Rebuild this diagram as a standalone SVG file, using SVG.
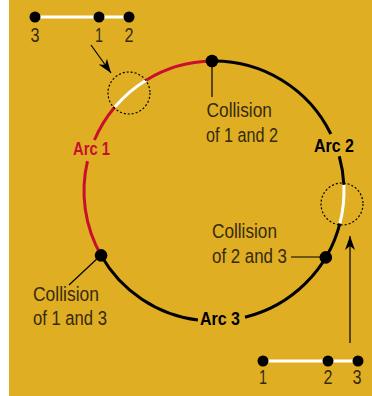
<svg xmlns="http://www.w3.org/2000/svg" width="372" height="396" viewBox="0 0 372 396">
<style>
.lbl{font-family:"Liberation Sans",Arial,sans-serif;font-size:20px;fill:#352a0e}
.num{font-family:"Liberation Sans",Arial,sans-serif;font-size:21px;fill:#352a0e;text-anchor:middle}
.arc{font-family:"Liberation Sans",Arial,sans-serif;font-size:18px;font-weight:bold}
.blk{fill:none;stroke:#000;stroke-width:3}
.red{fill:none;stroke:#c8102e;stroke-width:3}
.wht{fill:none;stroke:#fff;stroke-width:3}
.lead{fill:none;stroke:#000;stroke-width:1.2}
.dash{fill:none;stroke:#000;stroke-width:1.2;stroke-dasharray:2 2}
</style>
<defs>
<marker id="ah" viewBox="0 0 14 10" refX="14" refY="5" markerWidth="14" markerHeight="10" markerUnits="userSpaceOnUse" orient="auto">
<path d="M0,0 L14,5 L0,10 L4,5 Z" fill="#000"/>
</marker>
</defs>
<rect x="0" y="0" width="372" height="396" fill="#fff"/>
<rect x="9" y="0" width="363" height="396" fill="#e0ae22"/>
<g id="connectors">
<path class="red" d="M101.08 255.42 A130 130 0 0 1 87.48 161.10 M94.43 140.00 A130 130 0 0 1 114.85 106.92 M146.08 80.16 A130 130 0 0 1 211.96 61.01"/>
<path class="wht" d="M114.85 106.92 A130 130 0 0 1 146.08 80.16"/>
<path class="blk" d="M211.96 61.01 A130 130 0 0 1 330.84 134.01 M339.27 156.26 A130 130 0 0 1 343.86 184.88 M339.92 223.33 A130 130 0 0 1 245.01 317.24 M197.93 320.00 A130 130 0 0 1 101.08 255.42"/>
<path class="wht" d="M343.86 184.88 A130 130 0 0 1 339.92 223.33"/>
<circle class="dash" cx="129" cy="93" r="21"/>
<circle class="dash" cx="342" cy="204" r="21"/>
<line class="lead" x1="91" y1="45" x2="111" y2="73" marker-end="url(#ah)"/>
<line class="lead" x1="350" y1="343" x2="350" y2="236" marker-end="url(#ah)"/>
<line class="lead" x1="212" y1="61" x2="212" y2="97"/>
<line class="lead" x1="291" y1="257" x2="325" y2="257"/>
<line class="lead" x1="100" y1="256" x2="69" y2="285"/>
</g>
<g id="top-segment">
<line class="wht" x1="35" y1="17" x2="129" y2="17"/>
<circle cx="35" cy="17" r="5.5"/>
<circle cx="99" cy="17" r="5.5"/>
<circle cx="129" cy="17" r="5.5"/>
<text class="num" x="35" y="42" textLength="9" lengthAdjust="spacingAndGlyphs">3</text>
<text class="num" x="99" y="42" textLength="8" lengthAdjust="spacingAndGlyphs">1</text>
<text class="num" x="129" y="42" textLength="9" lengthAdjust="spacingAndGlyphs">2</text>
</g>
<g id="bottom-segment">
<line class="wht" x1="263" y1="361" x2="358" y2="361"/>
<circle cx="263" cy="361" r="5.5"/>
<circle cx="328" cy="361" r="5.5"/>
<circle cx="358" cy="361" r="5.5"/>
<text class="num" x="263" y="384" textLength="8" lengthAdjust="spacingAndGlyphs">1</text>
<text class="num" x="328" y="384" textLength="9" lengthAdjust="spacingAndGlyphs">2</text>
<text class="num" x="357" y="384" textLength="9" lengthAdjust="spacingAndGlyphs">3</text>
</g>
<g id="collision-1-2">
<circle cx="212" cy="61" r="6.3"/>
<text class="lbl" x="206.5" y="117" textLength="65.5" lengthAdjust="spacingAndGlyphs">Collision</text>
<text class="lbl" x="206" y="142" textLength="72" lengthAdjust="spacingAndGlyphs">of 1 and 2</text>
</g>
<g id="collision-2-3">
<circle cx="325.8" cy="257.4" r="6.3"/>
<text class="lbl" x="212" y="238" textLength="65" lengthAdjust="spacingAndGlyphs">Collision</text>
<text class="lbl" x="212" y="263" textLength="75" lengthAdjust="spacingAndGlyphs">of 2 and 3</text>
</g>
<g id="collision-1-3">
<circle cx="101.08" cy="255.42" r="6.3"/>
<text class="lbl" x="33" y="301" textLength="66" lengthAdjust="spacingAndGlyphs">Collision</text>
<text class="lbl" x="33" y="325" textLength="74" lengthAdjust="spacingAndGlyphs">of 1 and 3</text>
</g>
<g id="arc-1"><text class="arc" x="73" y="155" fill="#c8102e" textLength="37" lengthAdjust="spacingAndGlyphs">Arc 1</text></g>
<g id="arc-2"><text class="arc" x="314" y="152" fill="#000" textLength="40" lengthAdjust="spacingAndGlyphs">Arc 2</text></g>
<g id="arc-3"><text class="arc" x="200" y="325" fill="#000" textLength="40" lengthAdjust="spacingAndGlyphs">Arc 3</text></g>
</svg>
